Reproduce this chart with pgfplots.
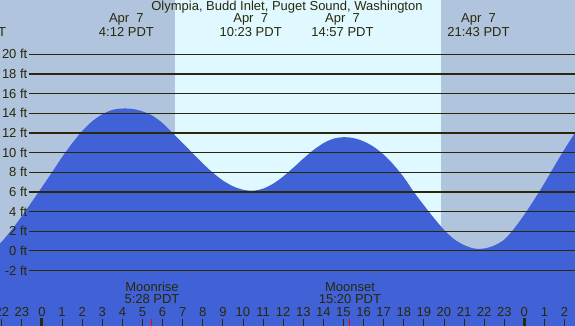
\documentclass[border=0pt]{standalone}
\usepackage{pgfplots}
\pgfplotsset{compat=1.18}
\usepackage{pgfplotstable}
\usepackage{fontspec}
\setmainfont{Liberation Sans}
\definecolor{night}{RGB}{176,196,222}
\definecolor{day}{RGB}{224,248,255}
\definecolor{tide}{RGB}{65,97,214}
\definecolor{ink}{RGB}{40,40,10}
\pgfplotstableread{
h v
-2.5 -0.1
-2.0 0.95
-1.5 2.17
-1.0 3.55
-0.5 5.01
0.0 6.5
0.5 8.0
1.0 9.55
1.5 10.95
2.0 12.2
2.5 13.2
3.0 13.9
3.5 14.35
4.0 14.49
4.5 14.45
5.0 14.2
5.5 13.75
6.0 13.0
6.5 12.0
7.0 10.98
7.5 9.93
8.0 8.9
8.5 7.96
9.0 7.17
9.5 6.58
10.0 6.23
10.5 6.13
11.0 6.34
11.5 6.84
12.0 7.57
12.5 8.46
13.0 9.39
13.5 10.26
14.0 10.96
14.5 11.42
15.0 11.57
15.5 11.48
16.0 11.15
16.5 10.6
17.0 9.8
17.5 8.75
18.0 7.5
18.5 6.0
19.0 4.65
19.5 3.35
20.0 2.15
20.5 1.2
21.0 0.6
21.5 0.25
22.0 0.25
22.5 0.55
23.0 1.15
23.5 2.3
24.0 3.7
24.5 5.25
25.0 6.9
25.5 8.65
26.0 10.35
26.5 11.95
27.0 13.4
}\tidedata
\begin{document}
\begin{tikzpicture}[font=\fontsize{13}{15}\selectfont]
\begin{axis}[name=ax, at={(0,0)}, anchor=south west,
  x=20.1pt, y=9.83pt, xmin=-2.09, xmax=26.52, ymin=-7.63, ymax=25.53,
  axis lines=none, ticks=none, clip=true]
\addplot[fill=night, draw=none] coordinates {(-2.09,-7.63) (26.52,-7.63) (26.52,25.53) (-2.09,25.53)} -- cycle;
\addplot[fill=day, draw=none] coordinates {(6.62,-7.63) (19.85,-7.63) (19.85,25.53) (6.62,25.53)} -- cycle;
\addplot[fill=tide, draw=none, smooth] table[x=h, y=v] {\tidedata} \closedcycle;
\addplot[fill=tide, draw=none] coordinates {(-2.6,-8) (27.1,-8) (27.1,0.1) (-2.6,0.1)} -- cycle;
\end{axis}
% grid lines and depth labels
\foreach \v in {-2,0,...,20} {
  \pgfmathsetmacro\yy{75+9.83*\v}
  \draw[ink, line width=1.1pt] (29pt,\yy pt) -- (576pt,\yy pt);
  \node[anchor=east, inner sep=1.5pt, text=ink] at (29pt,\yy pt) {\v\ ft};
}
% hour ticks and labels
\foreach \i in {-2,...,26} {
  \pgfmathsetmacro\xx{42+20.1*\i}
  \pgfmathtruncatemacro\lab{mod(\i+24,24)}
  \node[text=ink] at (\xx pt,14.3pt) {\lab};
  \ifnum\lab=0
    \draw[ink, line width=3pt] (\xx pt,0pt) -- (\xx pt,8pt);
  \else
    \draw[ink, line width=0.9pt] (\xx pt,0pt) -- (\xx pt,6.7pt);
  \fi
}
% moon
\draw[red, line width=1pt] (152pt,0pt) -- (152pt,6.7pt);
\draw[red, line width=1pt] (350pt,0pt) -- (350pt,6.7pt);
\node[text=ink] at (152pt,38.7pt) {Moonrise};
\node[text=ink] at (152pt,26.7pt) {5:28 PDT};
\node[text=ink] at (350pt,38.7pt) {Moonset};
\node[text=ink] at (350pt,26.7pt) {15:20 PDT};
% top labels
\node[text=ink] at (287pt,318.5pt) {Olympia, Budd Inlet, Puget Sound, Washington};
\foreach \xx/\tt/\dd in {-25/20:40/6, 126.4/4:12/7, 250.7/10:23/7, 342.5/14:57/7, 478.5/21:43/7} {
  \node[text=ink] at (\xx pt,306.7pt) {Apr\ \ \dd};
  \node[text=ink] at (\xx pt,294.3pt) {\tt\ PDT};
}
\pgfresetboundingbox
\useasboundingbox (ax.south west) rectangle (ax.north east);
\end{tikzpicture}
\end{document}
